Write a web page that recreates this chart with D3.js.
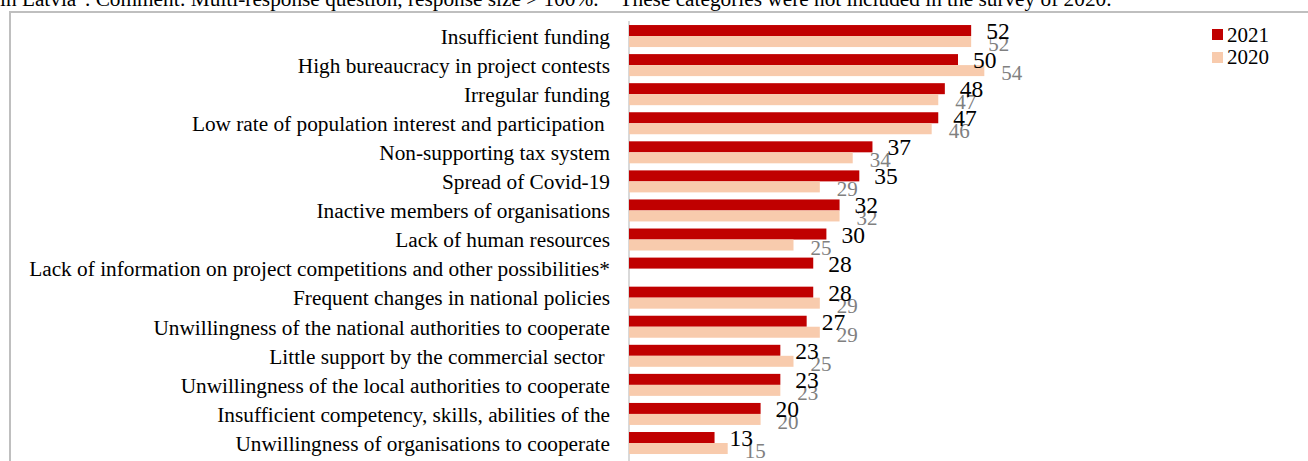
<!DOCTYPE html>
<html><head><meta charset="utf-8">
<script src="https://cdn.jsdelivr.net/npm/d3@7"></script>
<style>
html,body{margin:0;padding:0;background:#fff;overflow:hidden;}
svg{display:block;font-family:"Liberation Serif","Times New Roman",serif;}
</style></head><body>
<svg id="chart" width="1308" height="461"></svg>
<script>
const categories = [
  "Insufficient funding",
  "High bureaucracy in project contests",
  "Irregular funding",
  "Low rate of population interest and participation ",
  "Non-supporting tax system",
  "Spread of Covid-19",
  "Inactive members of organisations",
  "Lack of human resources",
  "Lack of information on project competitions and other possibilities*",
  "Frequent changes in national policies",
  "Unwillingness of the national authorities to cooperate",
  "Little support by the commercial sector ",
  "Unwillingness of the local authorities to cooperate",
  "Insufficient competency, skills, abilities of the",
  "Unwillingness of organisations to cooperate"
];
const values2021 = [52, 50, 48, 47, 37, 35, 32, 30, 28, 28, 27, 23, 23, 20, 13];
const values2020 = [52, 54, 47, 46, 34, 29, 32, 25, null, 29, 29, 25, 23, 20, 15];
const seriesNames = ["2021", "2020"];
const headerText = "in Latvia\". Comment: Multi-response question, response size > 100%. * These categories were not included in the survey of 2020.";

const svg = d3.select("#chart");
const colors = {"2021": "#c00000", "2020": "#f8cbad"};
const FF = "'Liberation Serif','Times New Roman',serif";

// header text (clipped at top)
svg.append("text").attr("x", 0).attr("y", 6)
  .attr("font-size", 21.3).attr("font-family", FF).attr("fill", "#000").text(headerText);

// frame
svg.append("rect").attr("x", 10).attr("y", 12).attr("width", 1320).attr("height", 470)
  .attr("fill", "none").attr("stroke", "#bfbfbf").attr("stroke-width", 2);

const x0 = 629;
const x = d3.scaleLinear().domain([0, 60]).range([x0, x0 + 60 * 6.58]);
const y = d3.scaleBand().domain(categories).range([21.5, 21.5 + 15 * 29.07]).paddingInner(0).paddingOuter(0);
const barH = 11;

// axis line
svg.append("line").attr("x1", x0).attr("x2", x0).attr("y1", 21).attr("y2", 461)
  .attr("stroke", "#d9d9d9").attr("stroke-width", 2);

// category labels via axis
const yAxis = d3.axisLeft(y).tickSize(0).tickPadding(0);
const ag = svg.append("g").attr("transform", `translate(610,1)`).call(yAxis);
ag.attr("font-family", FF).attr("font-size", 21.3);
ag.select(".domain").remove();
ag.selectAll("text").attr("font-size", 21.3).attr("font-family", FF)
  .attr("fill", "#000").attr("dy", "0.32em").style("white-space", "pre");

const rows = categories.map((c, i) => ({c, v21: values2021[i], v20: values2020[i]}));

const g = svg.append("g").attr("font-family", FF);
// 2021 bars
g.selectAll(".b21").data(rows).join("rect")
  .attr("x", x(0)).attr("y", d => y(d.c) + y.bandwidth()/2 - barH)
  .attr("width", d => x(d.v21) - x(0)).attr("height", barH).attr("fill", colors["2021"]);
// 2020 bars
g.selectAll(".b20").data(rows.filter(d => d.v20 != null)).join("rect")
  .attr("x", x(0)).attr("y", d => y(d.c) + y.bandwidth()/2)
  .attr("width", d => x(d.v20) - x(0)).attr("height", barH).attr("fill", colors["2020"]);

// labels 2020 (grey, drawn first)
g.selectAll(".l20").data(rows.filter(d => d.v20 != null)).join("text")
  .attr("x", d => x(d.v20) + 17).attr("y", d => y(d.c) + y.bandwidth()/2 + barH + 4)
  .attr("font-size", 21).attr("fill", "#808080").text(d => d.v20);
// labels 2021
g.selectAll(".l21").data(rows).join("text")
  .attr("x", d => x(d.v21) + 15).attr("y", d => y(d.c) + y.bandwidth()/2 + 3)
  .attr("font-size", 23.5).attr("fill", "#000").text(d => d.v21);

// legend
const lg = svg.append("g").attr("font-family", FF);
seriesNames.forEach((s, i) => {
  lg.append("rect").attr("x", 1212).attr("y", 29 + i * 23).attr("width", 11).attr("height", 11).attr("fill", colors[s]);
  lg.append("text").attr("x", 1227).attr("y", 42 + i * 22).attr("font-size", 21).attr("fill", "#000").text(s);
});
</script>
</body></html>
